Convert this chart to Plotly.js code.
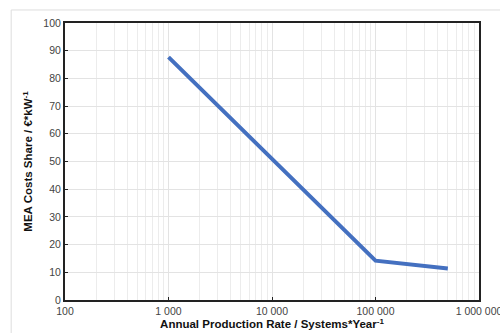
<!DOCTYPE html>
<html><head><meta charset="utf-8">
<script src="https://cdn.plot.ly/plotly-3.0.1.min.js"></script>
<style>html,body{margin:0;padding:0;background:#fff;overflow:hidden;}#chart{width:500px;height:333px;}</style>
</head><body><div id="chart"></div>
<script>
const productionRate = [1000, 100000, 500000];
const meaCostShare = [87.7, 14.2, 11.4];
const xTickVals = [100, 1000, 10000, 100000, 1000000];
const xTickText = ['100', '1 000', '10 000', '100 000', '1 000 000'];
const yTickVals = [0, 10, 20, 30, 40, 50, 60, 70, 80, 90, 100];

const trace = {
  x: productionRate, y: meaCostShare, type: 'scatter', mode: 'lines',
  line: {color: '#4470C0', width: 4}, hoverinfo: 'skip'
};
const font = {family: 'Liberation Sans, Arial, sans-serif'};
const layout = {
  width: 500, height: 333,
  margin: {l: 65, r: 21, t: 23, b: 33},
  paper_bgcolor: '#fff', plot_bgcolor: '#fff',
  showlegend: false,
  font: font,
  xaxis: {
    type: 'log', range: [2, 6],
    tickmode: 'array', tickvals: xTickVals, ticktext: xTickText,
    tickfont: {size: 10.5, color: '#444'},
    ticklabeloverflow: 'allow',
    ticks: 'inside', ticklen: 3, tickcolor: '#222',
    showgrid: true, gridcolor: '#e3e3e3', gridwidth: 1,
    minor: {dtick: 'D1', showgrid: true, gridcolor: '#ececec', gridwidth: 1, ticks: ''},
    showline: true, linecolor: '#222', linewidth: 2, mirror: true,
    zeroline: false,
    title: {text: '<b>Annual Production Rate / Systems*Year<sup>-1</sup></b>', font: {size: 11.5, color: '#111'}, standoff: 4}
  },
  yaxis: {
    range: [0, 100],
    tickmode: 'array', tickvals: yTickVals,
    tickfont: {size: 10.5, color: '#444'},
    ticks: 'inside', ticklen: 3, tickcolor: '#222',
    showgrid: true, gridcolor: '#e3e3e3', gridwidth: 1,
    showline: true, linecolor: '#222', linewidth: 2, mirror: true,
    zeroline: false,
    title: {text: '<b>MEA Costs Share / €*kW<sup>-1</sup></b>', font: {size: 11.5, color: '#111'}, standoff: 8}
  },
  shapes: [{
    type: 'rect', xref: 'paper', yref: 'paper', layer: 'below',
    x0: -0.13, x1: 1.1, y0: -0.2, y1: 1.047,
    line: {color: '#dddddd', width: 1}, fillcolor: 'rgba(0,0,0,0)'
  }]
};
Plotly.newPlot('chart', [trace], layout, {staticPlot: true, displayModeBar: false});
</script></body></html>
